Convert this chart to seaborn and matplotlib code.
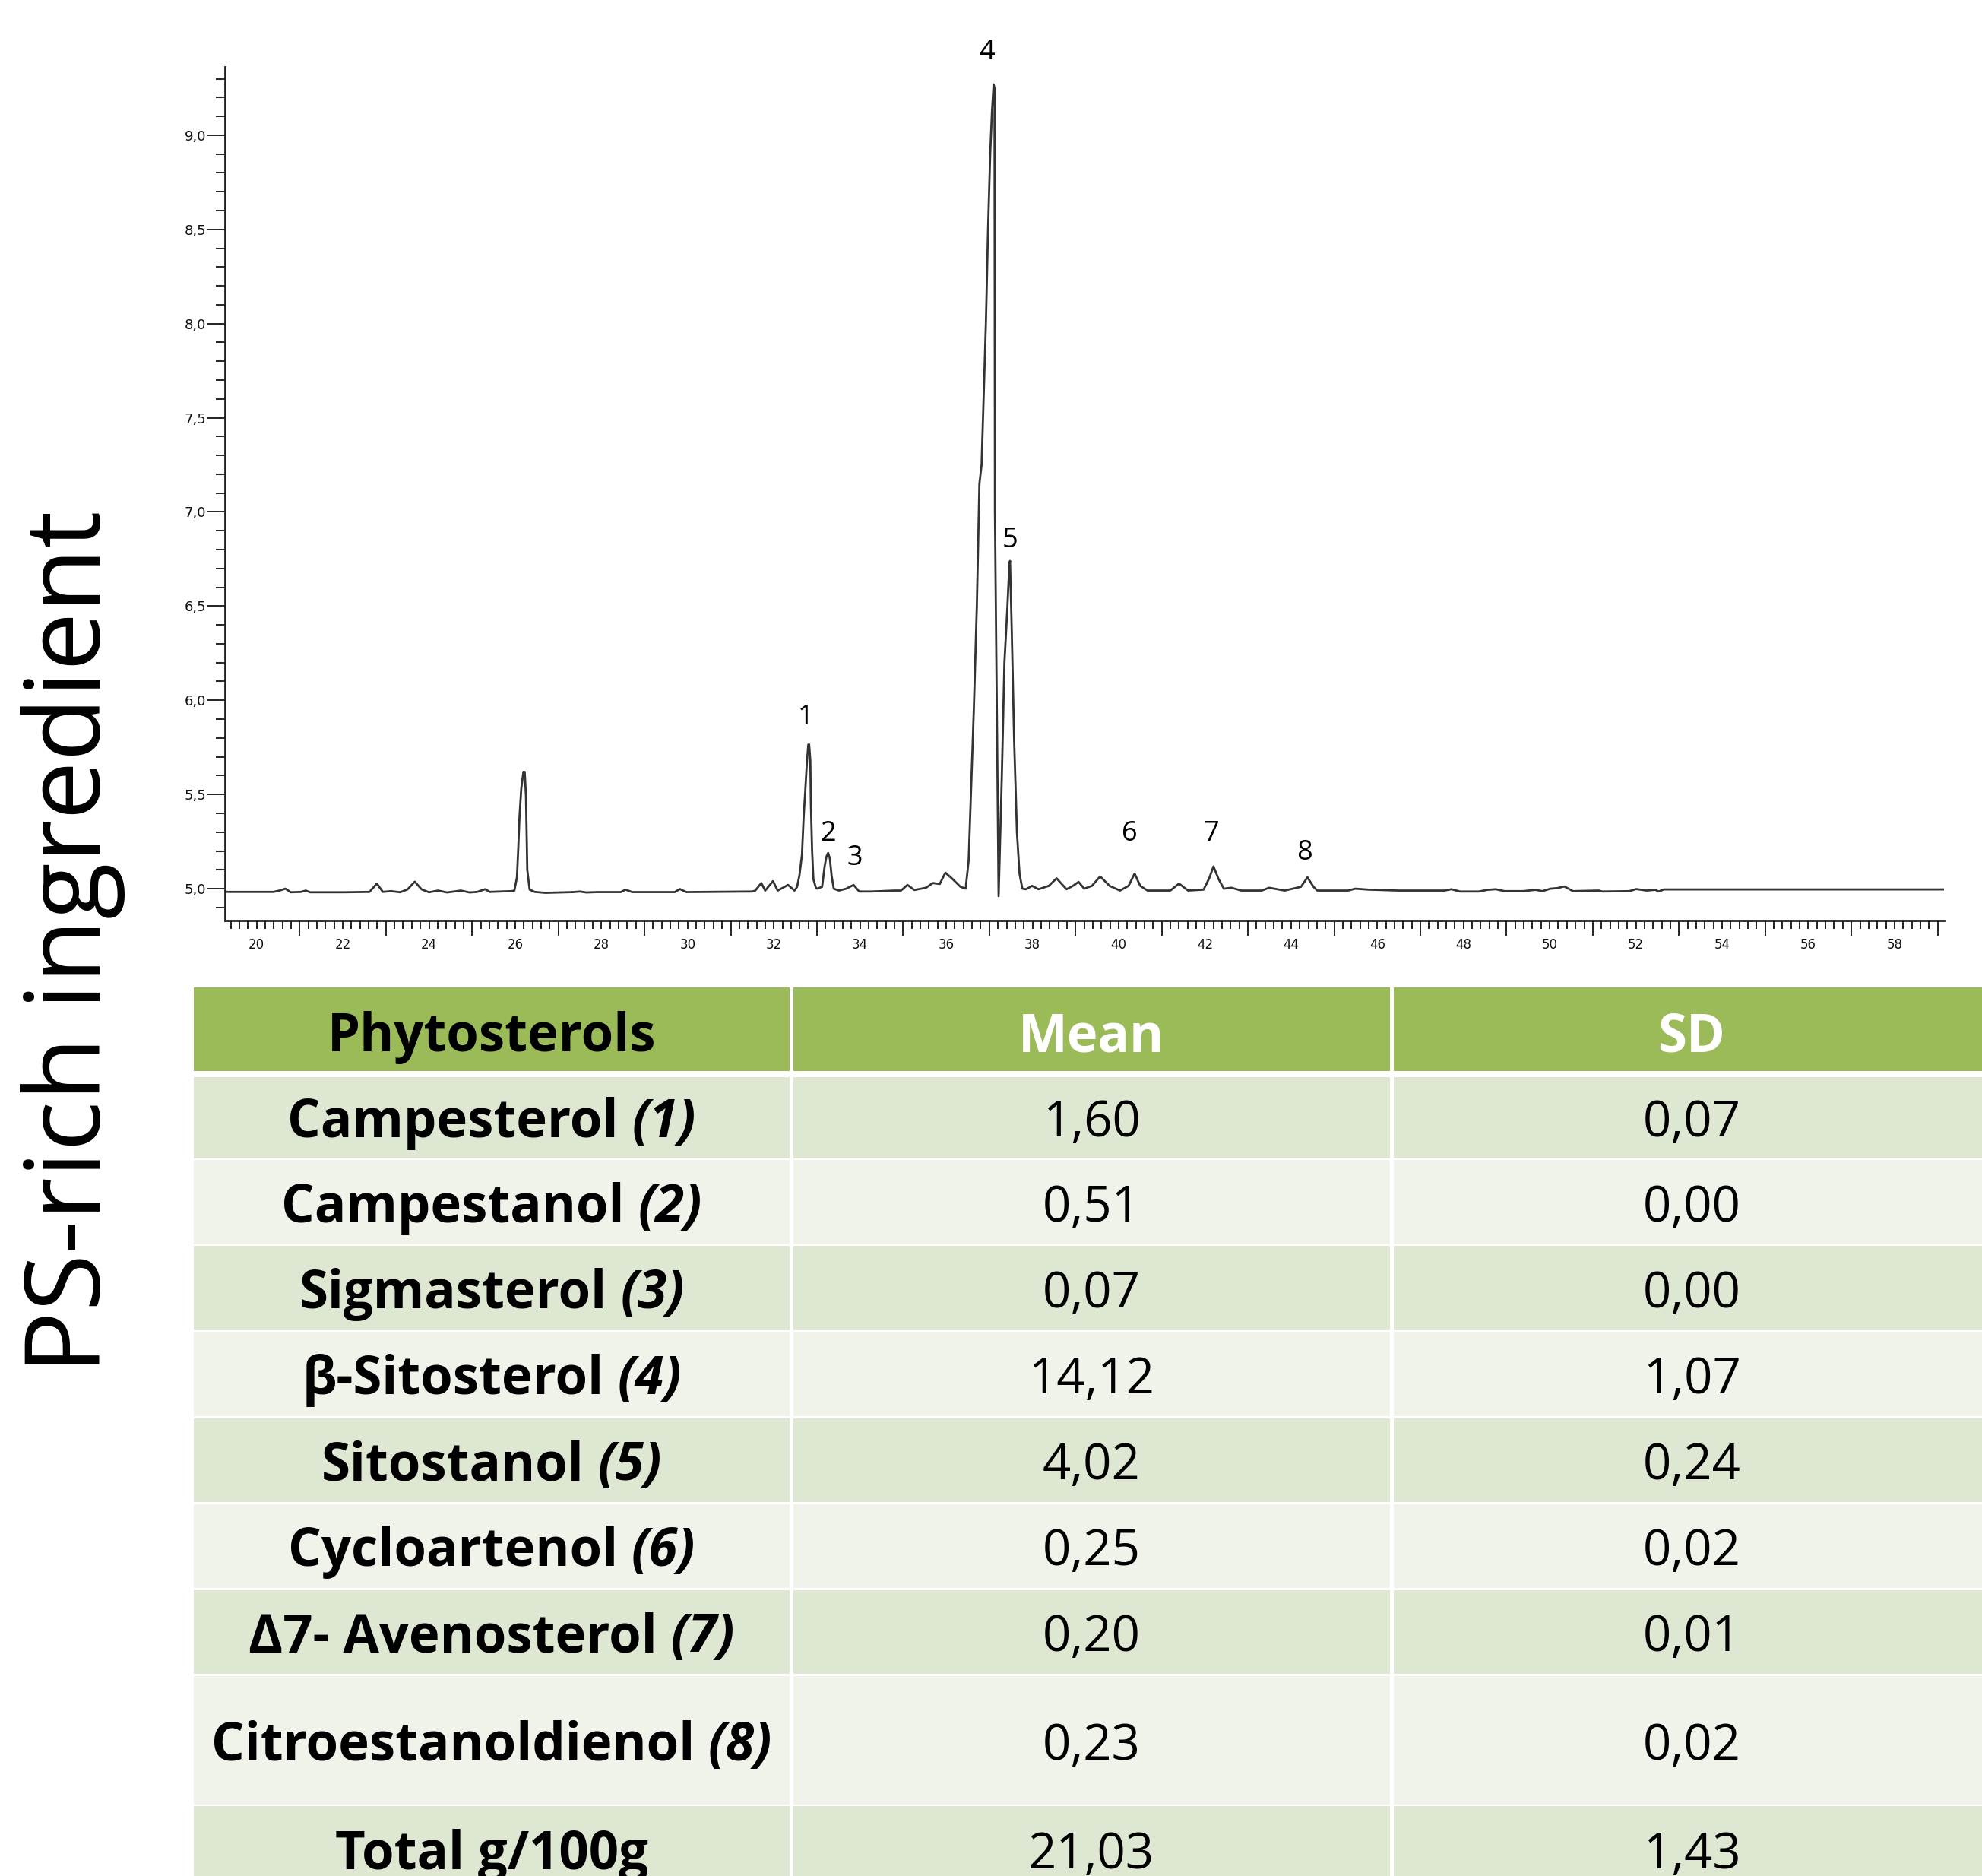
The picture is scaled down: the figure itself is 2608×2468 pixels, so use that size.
import matplotlib
matplotlib.use('Agg')
import matplotlib.pyplot as plt
import matplotlib.ticker as mticker
from matplotlib.patches import Rectangle
import seaborn as sns

# chromatogram trace (retention time in min, signal)
ret_time = [19.27, 20.39, 20.53, 20.67, 20.79, 21.03, 21.14, 21.24, 22.03, 22.62,
            22.79, 22.93, 23.12, 23.33, 23.50, 23.67, 23.83, 24.00, 24.21, 24.42,
            24.74, 24.94, 25.12, 25.30, 25.41, 25.91, 25.98, 26.04, 26.07, 26.10,
            26.14, 26.19, 26.22, 26.25, 26.265, 26.28, 26.335, 26.45, 26.70, 27.35,
            27.50, 27.65, 27.90, 28.45, 28.56, 28.71, 29.70, 29.82, 29.97, 31.50,
            31.57, 31.71, 31.80, 31.98, 32.09, 32.33, 32.48, 32.54, 32.594, 32.653,
            32.694, 32.73, 32.77, 32.80, 32.82, 32.847, 32.86, 32.888, 32.918, 32.976,
            33.006, 33.12, 33.18, 33.22, 33.26, 33.30, 33.34, 33.39, 33.51, 33.68,
            33.85, 33.98, 34.27, 34.80, 34.95, 35.10, 35.26, 35.53, 35.69, 35.85,
            35.98, 36.13, 36.33, 36.45, 36.52, 36.58, 36.64, 36.71, 36.77, 36.82,
            36.87, 36.92, 36.97, 37.02, 37.06, 37.10, 37.12, 37.13, 37.215, 37.29,
            37.35, 37.42, 37.465, 37.48, 37.52, 37.575, 37.64, 37.70, 37.765, 37.85,
            37.99, 38.14, 38.38, 38.56, 38.79, 38.94, 39.07, 39.20, 39.38, 39.57,
            39.79, 40.03, 40.23, 40.37, 40.50, 40.67, 41.20, 41.40, 41.61, 41.97,
            42.10, 42.20, 42.32, 42.44, 42.61, 42.85, 43.32, 43.49, 43.85, 44.23,
            44.38, 44.52, 44.61, 45.32, 45.49, 45.79, 46.50, 47.00, 47.56, 47.72,
            47.92, 48.36, 48.56, 48.75, 48.95, 49.39, 49.67, 49.83, 50.02, 50.18,
            50.34, 50.54, 51.14, 51.22, 51.85, 52.01, 52.25, 52.45, 52.53, 52.65,
            59.15]
signal = [4.983, 4.983, 4.990, 5.000, 4.981, 4.983, 4.990, 4.981, 4.981, 4.983,
          5.027, 4.983, 4.987, 4.981, 4.996, 5.037, 4.996, 4.981, 4.990, 4.980,
          4.990, 4.980, 4.983, 4.997, 4.983, 4.987, 4.990, 5.060, 5.210, 5.385,
          5.530, 5.620, 5.620, 5.490, 5.290, 5.100, 4.995, 4.983, 4.978, 4.982,
          4.985, 4.980, 4.982, 4.982, 4.995, 4.982, 4.982, 4.998, 4.982, 4.985,
          4.990, 5.030, 4.990, 5.040, 4.990, 5.020, 4.990, 5.010, 5.070, 5.180,
          5.390, 5.520, 5.680, 5.765, 5.765, 5.680, 5.450, 5.200, 5.050, 5.005,
          5.000, 5.010, 5.120, 5.170, 5.190, 5.160, 5.070, 5.000, 4.990, 5.000,
          5.020, 4.985, 4.985, 4.990, 4.990, 5.020, 4.993, 5.005, 5.030, 5.025,
          5.085, 5.055, 5.010, 5.000, 5.150, 5.550, 5.950, 6.500, 7.150, 7.250,
          7.620, 8.000, 8.500, 8.900, 9.120, 9.270, 9.250, 7.000, 4.960, 5.600,
          6.200, 6.500, 6.720, 6.740, 6.370, 5.790, 5.300, 5.080, 5.000, 4.997,
          5.015, 4.997, 5.015, 5.055, 4.997, 5.015, 5.036, 5.000, 5.015, 5.065,
          5.015, 4.990, 5.015, 5.080, 5.015, 4.990, 4.990, 5.027, 4.990, 4.995,
          5.055, 5.118, 5.050, 5.000, 5.005, 4.990, 4.990, 5.005, 4.990, 5.010,
          5.060, 5.010, 4.990, 4.990, 5.000, 4.995, 4.990, 4.990, 4.990, 4.997,
          4.985, 4.985, 4.994, 4.997, 4.987, 4.987, 4.994, 4.987, 5.000, 5.003,
          5.012, 4.987, 4.990, 4.985, 4.987, 4.998, 4.990, 4.994, 4.985, 4.996,
          4.996]

# peak numbers and where they are written (time, signal)
peak_ids = ['1', '2', '3', '4', '5', '6', '7', '8']
peak_lab_t = [32.73, 33.26, 33.87, 36.95, 37.48, 40.26, 42.14, 44.31]
peak_lab_v = [5.91, 5.29, 5.16, 9.44, 6.85, 5.29, 5.29, 5.19]

# table
col_heads = ['Phytosterols', 'Mean', 'SD']
sterols = ['Campesterol', 'Campestanol', 'Sigmasterol', 'β-Sitosterol', 'Sitostanol',
           'Cycloartenol', 'Δ7- Avenosterol', 'Citroestanoldienol']
sterol_ids = ['1', '2', '3', '4', '5', '6', '7', '8']
means = ['1,60', '0,51', '0,07', '14,12', '4,02', '0,25', '0,20', '0,23']
sds = ['0,07', '0,00', '0,00', '1,07', '0,24', '0,02', '0,01', '0,02']
total_label = 'Total g/100g'
total_mean = '21,03'
total_sd = '1,43'

sns.set_style('white')
plt.rcParams['font.family'] = ['Open Sans', 'DejaVu Sans']
plt.rcParams['text.color'] = 'black'

W, H = 1568, 1484
fig = plt.figure(figsize=(26.08, 24.68), dpi=100)

# table canvas in picture pixels
tab = fig.add_axes([0, 0, 1, 1])
tab.set_xlim(0, W)
tab.set_ylim(H, 0)
tab.axis('off')

fig.text(0.037, 0.498, 'PS-rich ingredient', rotation=90, ha='center', va='center',
         fontsize=99, color='black')

# chromatogram
ax = fig.add_axes([178 / W, 1 - 728 / H, (1538 - 178) / W, (728 - 53) / H])
ax.patch.set_alpha(0)
sns.lineplot(x=ret_time, y=signal, ax=ax, color='#333333', linewidth=2.0,
             estimator=None, sort=False)
ax.set_xlim(19.267, 59.15)
ax.set_ylim(4.832, 9.362)
sns.despine(ax=ax)
for s in ['left', 'bottom']:
    ax.spines[s].set_linewidth(2.0)
    ax.spines[s].set_color('#222222')

ax.yaxis.set_major_locator(mticker.MultipleLocator(0.5))
ax.yaxis.set_minor_locator(mticker.MultipleLocator(0.1))
ax.yaxis.set_major_formatter(mticker.FuncFormatter(lambda v, p: f'{v:.1f}'.replace('.', ',')))
ax.tick_params(axis='y', which='major', length=17, width=1.4, direction='out',
               labelsize=13, pad=1, color='#222222', left=True)
ax.tick_params(axis='y', which='minor', length=9, width=1.4, direction='out',
               color='#222222', left=True)

xt = list(range(20, 60))
ax.set_xticks(xt)
ax.set_xticklabels([str(v) if v % 2 == 0 else '' for v in xt])
ax.xaxis.set_minor_locator(mticker.MultipleLocator(0.2))
ax.tick_params(axis='x', which='major', length=14.5, width=1.4, direction='out',
               labelsize=12, pad=2, color='#222222', bottom=True)
ax.tick_params(axis='x', which='minor', length=8, width=1.4, direction='out',
               color='#222222', bottom=True)
for v, tk in zip(xt, ax.xaxis.get_major_ticks()):
    if v % 2 == 0:
        tk.tick1line.set_markersize(8)
for lab in ax.get_xticklabels() + ax.get_yticklabels():
    lab.set_family('DejaVu Sans')
    lab.set_color('#111111')

for pid, t, v in zip(peak_ids, peak_lab_t, peak_lab_v):
    ax.text(t, v, pid, ha='center', va='center', fontsize=26, clip_on=False)

# table drawing
cols = [152, 626, 1101, 1576]
head_top, head_bot = 781, 847
row_bounds = [851, 917, 985, 1053, 1121, 1189, 1257, 1325, 1428, 1498]
green = '#9bbb59'
dark = '#dee7d1'
light = '#eff3ea'
fs = 47
fsb = 49.5
gap = 1.5

for j in range(3):
    tab.add_patch(Rectangle((cols[j] + gap, head_top), cols[j + 1] - cols[j] - 2 * gap,
                            head_bot - head_top, color=green, lw=0))
    tab.text((cols[j] + cols[j + 1]) / 2, (head_top + head_bot) / 2 + 7, col_heads[j],
             ha='center', va='center', fontsize=fsb, weight='bold',
             color='black' if j == 0 else 'white')

renderer = fig.canvas.get_renderer()
px = fig.get_figwidth() * fig.dpi / W


def name_cell(xc, yc, name, num):
    a = tab.text(0, yc, name, ha='left', va='center', fontsize=fsb, weight='bold')
    if num is None:
        a.set_x(xc - a.get_window_extent(renderer).width / px / 2)
        return
    b = tab.text(0, yc, f'({num})', ha='left', va='center', fontsize=fsb,
                 weight='bold', style='italic')
    w1 = a.get_window_extent(renderer).width / px
    w2 = b.get_window_extent(renderer).width / px
    sp = fsb * 0.26 * 100 / 72 / px
    x0 = xc - (w1 + sp + w2) / 2
    a.set_x(x0)
    b.set_x(x0 + w1 + sp)


names = sterols + [total_label]
ids = sterol_ids + [None]
mv = means + [total_mean]
sv = sds + [total_sd]
for i in range(len(names)):
    top, bot = row_bounds[i], row_bounds[i + 1]
    fc = dark if i % 2 == 0 else light
    yc = (top + bot) / 2 + 5
    for j in range(3):
        tab.add_patch(Rectangle((cols[j] + gap, top + gap / 2), cols[j + 1] - cols[j] - 2 * gap,
                                bot - top - gap, color=fc, lw=0))
    name_cell((cols[0] + cols[1]) / 2, yc, names[i], ids[i])
    tab.text((cols[1] + cols[2]) / 2, yc, mv[i], ha='center', va='center', fontsize=fs)
    tab.text((cols[2] + cols[3]) / 2, yc, sv[i], ha='center', va='center', fontsize=fs)

fig.savefig('out.png', dpi=100)
